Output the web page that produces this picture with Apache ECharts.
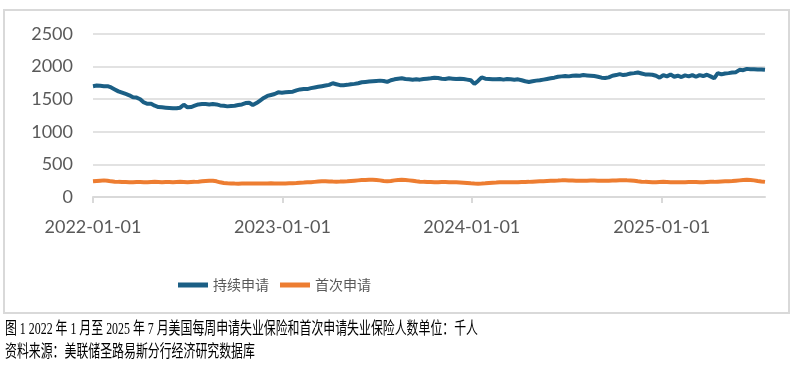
<!DOCTYPE html>
<html>
<head>
<meta charset="utf-8">
<script src="https://cdn.jsdelivr.net/npm/echarts@6/dist/echarts.min.js"></script>
<style>
html,body{margin:0;padding:0;background:#fff;}
#chart{position:absolute;left:0;top:0;width:795px;height:365px;}
#cap{position:absolute;left:5px;top:317px;white-space:nowrap;font-family:"Liberation Serif","Noto Sans CJK SC",serif;font-size:17px;line-height:23px;color:#000;transform:scaleX(0.7);transform-origin:0 0;}
</style>
</head>
<body>
<div id="chart"></div>
<div id="cap">图 1 2022 年 1 月至 2025 年 7 月美国每周申请失业保险和首次申请失业保险人数单位：千人<br>资料来源：美联储圣路易斯分行经济研究数据库</div>
<script>
// weekly observations starting 2022-01-01
const startDate = '2022-01-01';
const endDate = '2025-07-19';
const seriesNames = ['持续申请', '首次申请'];
const yTicks = [0, 500, 1000, 1500, 2000, 2500];
const xTickLabels = ['2022-01-01', '2023-01-01', '2024-01-01', '2025-01-01'];

const continuing = [
1700,1710,1705,1700,1700,1680,1650,1620,1600,1580,
1560,1530,1525,1500,1450,1430,1430,1400,1380,1375,
1370,1365,1360,1360,1370,1415,1375,1380,1400,1420,
1425,1425,1420,1425,1420,1405,1400,1390,1395,1400,
1410,1420,1440,1445,1410,1440,1480,1520,1550,1565,
1580,1605,1600,1605,1610,1615,1635,1650,1655,1655,
1670,1680,1690,1700,1710,1720,1745,1730,1715,1715,
1720,1730,1735,1745,1760,1765,1770,1775,1780,1785,
1780,1765,1790,1805,1815,1820,1810,1805,1800,1805,
1800,1810,1815,1820,1830,1825,1815,1810,1820,1815,
1810,1815,1810,1800,1790,1735,1780,1835,1815,1810,
1805,1805,1810,1800,1810,1805,1800,1805,1790,1775,
1765,1775,1785,1790,1800,1810,1820,1830,1845,1850,
1855,1850,1860,1865,1860,1870,1865,1860,1855,1845,
1830,1825,1835,1860,1870,1885,1870,1880,1895,1900,
1910,1895,1880,1880,1875,1860,1830,1870,1850,1880,
1845,1860,1840,1865,1850,1870,1845,1870,1855,1875,
1850,1820,1900,1880,1895,1900,1910,1915,1950,1945,
1965,1960,1960,1955,1955,1950
];

const initial = [
240,245,250,255,250,
240,235,232,230,230,228,
228,230,230,228,228,230,232,230,228,230,
230,228,230,232,230,228,230,232,235,240,245,
250,248,240,225,
215,210,208,206,205,206,207,208,208,207,206,207,208,210,208,207,206,208,210,
212,215,220,222,225,228,232,236,240,
240,238,236,235,236,238,240,245,250,255,260,262,265,
265,262,255,245,240,245,255,262,
265,262,255,248,240,235,232,
230,230,228,228,230,230,228,226,225,224,
220,215,210,206,204,206,210,215,
220,222,225,226,226,228,228,228,230,230,232,235,238,240,242,
245,248,250,252,255,255,254,252,250,250,250,251,252,252,250,248,248,250,252,254,255,256,255,252,248,240,
235,232,230,228,228,230,232,230,228,226,226,228,228,230,230,230,228,228,230,232,232,
235,238,240,242,245,250,255,260,265,262,255,245,238,232
];

function pad(n){return (n<10?'0':'')+n;}
function fmt(d){return d.getFullYear()+'-'+pad(d.getMonth()+1)+'-'+pad(d.getDate());}
const p = startDate.split('-').map(Number);
const dates = [];
const n = Math.min(continuing.length, initial.length);
for (let i = 0; i < n; i++) {
  dates.push(new Date(p[0], p[1]-1, p[2] + 7*i).getTime());
}
function toTs(s){const a=s.split('-').map(Number);return new Date(a[0],a[1]-1,a[2]).getTime();}
const xTickValues = xTickLabels.map(toTs);

const chart = echarts.init(document.getElementById('chart'), null, {renderer:'canvas'});
const labelFont = {fontFamily:'Lato', fontSize:18, color:'#595959'};
chart.setOption({
  animation:false,
  backgroundColor:'#ffffff',
  graphic:[{type:'rect', shape:{x:4,y:10,width:785,height:303}, style:{fill:null, stroke:'#d9d9d9', lineWidth:2}, silent:true}],
  grid:{left:93, right:30, top:34, bottom:168, containLabel:false},
  legend:{
    left:173, top:273, itemWidth:30, itemHeight:5, itemGap:11, icon:'rect',
    textStyle:{fontFamily:'Noto Sans CJK SC', fontSize:14, color:'#595959'},
    data:seriesNames
  },
  xAxis:{
    type:'value', min:toTs(startDate), max:toTs(endDate),
    axisLine:{show:true, lineStyle:{color:'#d9d9d9', width:2}},
    axisTick:{show:true, length:6, lineStyle:{color:'#d9d9d9', width:2}, customValues:xTickValues},
    axisLabel:Object.assign({margin:21, customValues:xTickValues, formatter:function(v){return fmt(new Date(v));}}, labelFont),
    splitLine:{show:false}
  },
  yAxis:{
    type:'value', min:yTicks[0], max:yTicks[yTicks.length-1], interval:500,
    axisLine:{show:false}, axisTick:{show:false},
    axisLabel:Object.assign({margin:20, formatter:function(v){return String(v);}}, labelFont),
    splitLine:{show:true, lineStyle:{color:'#d9d9d9', width:1.5}}
  },
  series:[
    {name:seriesNames[0], type:'line', symbol:'none', smooth:false, data:dates.map((d,i)=>[d, continuing[i]]),
     lineStyle:{color:'#1b5f85', width:4}, itemStyle:{color:'#1b5f85'}},
    {name:seriesNames[1], type:'line', symbol:'none', smooth:false, data:dates.map((d,i)=>[d, initial[i]]),
     lineStyle:{color:'#ed7d31', width:4}, itemStyle:{color:'#ed7d31'}}
  ]
});
</script>
</body>
</html>
